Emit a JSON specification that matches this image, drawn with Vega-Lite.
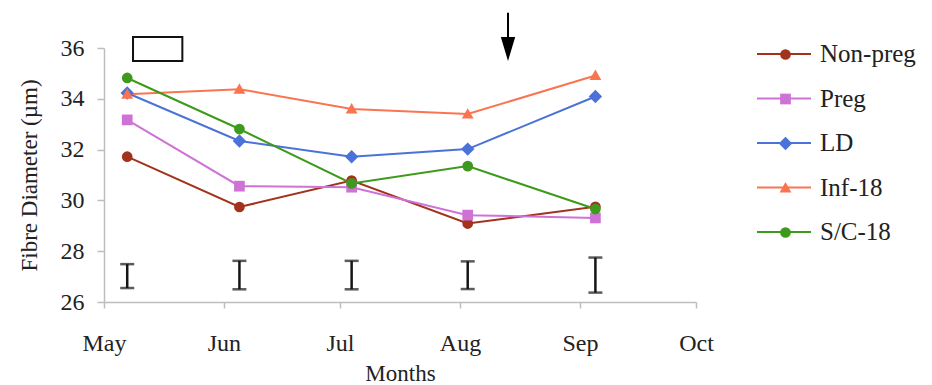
{
  "$schema": "https://vega.github.io/schema/vega-lite/v6.json",
  "width": 592,
  "height": 254,
  "autosize": {"type": "none"},
  "padding": {"left": 104, "top": 48, "right": 236, "bottom": 83},
  "background": "white",
  "config": {
    "font": "Liberation Serif",
    "view": {"stroke": null},
    "axis": {
      "grid": false,
      "domainColor": "#bdbdbd",
      "domainWidth": 1.5,
      "tickColor": "#bdbdbd",
      "tickWidth": 1.5,
      "labelColor": "#222222",
      "titleColor": "#222222",
      "labelFont": "Liberation Serif",
      "titleFont": "Liberation Serif",
      "labelFontSize": 24,
      "titleFontSize": 23,
      "titleFontWeight": "normal"
    }
  },
  "datasets": {
    "series": [
      {"series": "Non-preg", "order": 1, "date": "2020-05-07", "value": 31.72},
      {"series": "Non-preg", "order": 1, "date": "2020-06-05", "value": 29.74},
      {"series": "Non-preg", "order": 1, "date": "2020-07-04", "value": 30.78},
      {"series": "Non-preg", "order": 1, "date": "2020-08-03", "value": 29.09},
      {"series": "Non-preg", "order": 1, "date": "2020-09-05", "value": 29.75},
      {"series": "Preg", "order": 2, "date": "2020-05-07", "value": 33.17},
      {"series": "Preg", "order": 2, "date": "2020-06-05", "value": 30.56},
      {"series": "Preg", "order": 2, "date": "2020-07-04", "value": 30.52},
      {"series": "Preg", "order": 2, "date": "2020-08-03", "value": 29.42},
      {"series": "Preg", "order": 2, "date": "2020-09-05", "value": 29.31},
      {"series": "LD", "order": 3, "date": "2020-05-07", "value": 34.23},
      {"series": "LD", "order": 3, "date": "2020-06-05", "value": 32.34},
      {"series": "LD", "order": 3, "date": "2020-07-04", "value": 31.72},
      {"series": "LD", "order": 3, "date": "2020-08-03", "value": 32.02},
      {"series": "LD", "order": 3, "date": "2020-09-05", "value": 34.09},
      {"series": "Inf-18", "order": 4, "date": "2020-05-07", "value": 34.18},
      {"series": "Inf-18", "order": 4, "date": "2020-06-05", "value": 34.38},
      {"series": "Inf-18", "order": 4, "date": "2020-07-04", "value": 33.6},
      {"series": "Inf-18", "order": 4, "date": "2020-08-03", "value": 33.4},
      {"series": "Inf-18", "order": 4, "date": "2020-09-05", "value": 34.92},
      {"series": "S/C-18", "order": 5, "date": "2020-05-07", "value": 34.82},
      {"series": "S/C-18", "order": 5, "date": "2020-06-05", "value": 32.81},
      {"series": "S/C-18", "order": 5, "date": "2020-07-04", "value": 30.67},
      {"series": "S/C-18", "order": 5, "date": "2020-08-03", "value": 31.35},
      {"series": "S/C-18", "order": 5, "date": "2020-09-05", "value": 29.66}
    ],
    "errors": [
      {"date": "2020-05-07", "lo": 26.55, "hi": 27.49},
      {"date": "2020-06-05", "lo": 26.5, "hi": 27.62},
      {"date": "2020-07-04", "lo": 26.5, "hi": 27.62},
      {"date": "2020-08-03", "lo": 26.51, "hi": 27.6},
      {"date": "2020-09-05", "lo": 26.37, "hi": 27.75}
    ],
    "box": [
      {"date": "2020-05-08T12:00", "date2": "2020-05-21T06:00", "value": 36.43, "value2": 35.49}
    ],
    "arrow": [
      {"date": "2020-08-13T10:00", "value": 37.39, "value2": 36.2, "head": 35.96}
    ]
  },
  "layer": [
    {
      "data": {"name": "series"},
      "mark": {"type": "line", "strokeWidth": 2},
      "encoding": {
        "x": {
          "field": "date", "type": "temporal",
          "scale": {"type": "utc", "domain": [{"year": 2020, "month": 5, "date": 1, "utc": true}, {"year": 2020, "month": 10, "date": 1, "utc": true}]},
          "axis": {
            "title": "Months",
            "format": "%b",
            "values": [
              {"year": 2020, "month": 5, "date": 1, "utc": true},
              {"year": 2020, "month": 6, "date": 1, "utc": true},
              {"year": 2020, "month": 7, "date": 1, "utc": true},
              {"year": 2020, "month": 8, "date": 1, "utc": true},
              {"year": 2020, "month": 9, "date": 1, "utc": true},
              {"year": 2020, "month": 10, "date": 1, "utc": true}
            ],
            "labelFlush": false,
            "labelOverlap": false,
            "tickSize": 6,
            "labelPadding": 23,
            "titlePadding": 7
          }
        },
        "y": {
          "field": "value", "type": "quantitative", "title": "Fibre Diameter (µm)",
          "scale": {"domain": [26, 36], "zero": false, "nice": false},
          "axis": {"title": "Fibre Diameter (µm)", "values": [26, 28, 30, 32, 34, 36], "tickSize": 7, "labelPadding": 13, "titlePadding": 19}
        },
        "color": {
          "field": "series", "type": "nominal",
          "scale": {"domain": ["Non-preg", "Preg", "LD", "Inf-18", "S/C-18"], "range": ["#a3321d", "#cf72d6", "#4a72d8", "#fb7450", "#3e9a1c"]},
          "legend": {
            "orient": "none", "legendX": 652, "legendY": -22, "title": null, "padding": 0,
            "symbolType": "stroke", "symbolSize": 2916, "symbolStrokeWidth": 2,
            "labelFont": "Liberation Serif", "labelFontSize": 25, "labelColor": "#222222",
            "labelOffset": 8, "rowPadding": 3.5
          }
        }
      }
    },
    {
      "data": {"name": "series"},
      "mark": {"type": "point", "filled": true, "size": 115, "opacity": 1, "strokeWidth": 0},
      "encoding": {
        "x": {"field": "date", "type": "temporal", "scale": {"type": "utc", "domain": [{"year": 2020, "month": 5, "date": 1, "utc": true}, {"year": 2020, "month": 10, "date": 1, "utc": true}]}},
        "y": {"field": "value", "type": "quantitative", "title": "Fibre Diameter (µm)", "scale": {"domain": [26, 36], "zero": false, "nice": false}},
        "shape": {
          "field": "series", "type": "nominal", "sort": {"field": "order", "op": "min"},
          "scale": {"range": ["circle", "square", "M-1.25,0L0,-1.25L1.25,0L0,1.25Z", "M-1.1,0.85L1.1,0.85L0,-1.1Z", "circle"]},
          "legend": {
            "orient": "none", "legendX": 652, "legendY": -6, "title": null, "padding": 0,
            "symbolSize": 115, "symbolOffset": 17, "symbolStrokeWidth": 0,
            "labelFont": "Liberation Serif", "labelFontSize": 25, "labelOpacity": 0, "labelExpr": "''",
            "labelOffset": 8, "rowPadding": 18.5
          }
        },
        "fill": {
          "field": "series", "type": "nominal", "sort": {"field": "order", "op": "min"},
          "scale": {"range": ["#a3321d", "#cf72d6", "#4a72d8", "#fb7450", "#3e9a1c"]},
          "legend": {
            "orient": "none", "legendX": 652, "legendY": -6, "title": null, "padding": 0,
            "symbolSize": 115, "symbolOffset": 17, "symbolStrokeWidth": 0,
            "labelFont": "Liberation Serif", "labelFontSize": 25, "labelOpacity": 0, "labelExpr": "''",
            "labelOffset": 8, "rowPadding": 18.5
          }
        }
      }
    },
    {
      "data": {"name": "errors"},
      "mark": {"type": "errorbar", "ticks": true, "size": 14, "thickness": 2.5, "color": "#151515"},
      "encoding": {
        "x": {"field": "date", "type": "temporal", "scale": {"type": "utc", "domain": [{"year": 2020, "month": 5, "date": 1, "utc": true}, {"year": 2020, "month": 10, "date": 1, "utc": true}]}},
        "y": {"field": "lo", "type": "quantitative", "title": "Fibre Diameter (µm)", "scale": {"domain": [26, 36], "zero": false, "nice": false}},
        "y2": {"field": "hi"}
      }
    },
    {
      "data": {"name": "box"},
      "mark": {"type": "rect", "fill": "white", "stroke": "#111111", "strokeWidth": 2, "clip": false},
      "encoding": {
        "x": {"field": "date", "type": "temporal", "scale": {"type": "utc", "domain": [{"year": 2020, "month": 5, "date": 1, "utc": true}, {"year": 2020, "month": 10, "date": 1, "utc": true}]}},
        "x2": {"field": "date2"},
        "y": {"field": "value", "type": "quantitative", "title": "Fibre Diameter (µm)", "scale": {"domain": [26, 36], "zero": false, "nice": false}},
        "y2": {"field": "value2"}
      }
    },
    {
      "data": {"name": "arrow"},
      "mark": {"type": "rule", "color": "#000000", "strokeWidth": 2},
      "encoding": {
        "x": {"field": "date", "type": "temporal", "scale": {"type": "utc", "domain": [{"year": 2020, "month": 5, "date": 1, "utc": true}, {"year": 2020, "month": 10, "date": 1, "utc": true}]}},
        "y": {"field": "value", "type": "quantitative", "title": "Fibre Diameter (µm)", "scale": {"domain": [26, 36], "zero": false, "nice": false}},
        "y2": {"field": "value2"}
      }
    },
    {
      "data": {"name": "arrow"},
      "mark": {"type": "point", "filled": true, "color": "#000000", "opacity": 1, "size": 576, "shape": "M-0.6,-1L0.6,-1L0,1Z", "strokeWidth": 0},
      "encoding": {
        "x": {"field": "date", "type": "temporal", "scale": {"type": "utc", "domain": [{"year": 2020, "month": 5, "date": 1, "utc": true}, {"year": 2020, "month": 10, "date": 1, "utc": true}]}},
        "y": {"field": "head", "type": "quantitative", "title": "Fibre Diameter (µm)", "scale": {"domain": [26, 36], "zero": false, "nice": false}}
      }
    }
  ]
}
